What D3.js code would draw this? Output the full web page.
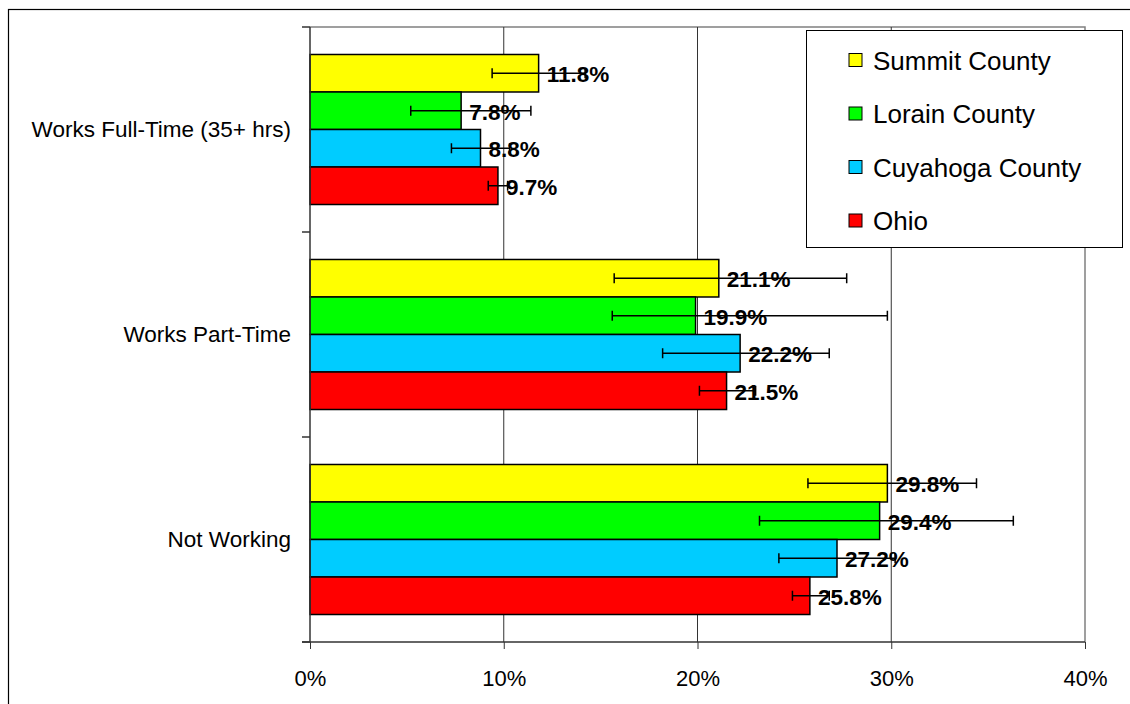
<!DOCTYPE html>
<html>
<head>
<meta charset="utf-8">
<script src="https://cdn.jsdelivr.net/npm/d3@7"></script>
<style>
  body { margin: 0; background: #fff; }
  svg text { font-family: "Liberation Sans", Arial, sans-serif; }
</style>
</head>
<body>
<div id="chart-container"></div>
<script>
// categories top to bottom, series in bar order within each group
const categories = ["Works Full-Time (35+ hrs)", "Works Part-Time", "Not Working"];
const series = ["Summit County", "Lorain County", "Cuyahoga County", "Ohio"];
const seriesColors = ["#ffff00", "#00ff00", "#00ccff", "#ff0000"];
const xTicks = [0, 10, 20, 30, 40];

// percent values, one array per series (same order as categories)
const summitValues = [11.8, 21.1, 29.8];
const lorainValues = [7.8, 19.9, 29.4];
const cuyahogaValues = [8.8, 22.2, 27.2];
const ohioValues = [9.7, 21.5, 25.8];

// error bar ends (low / high)
const summitLow = [9.4, 15.7, 25.7];
const summitHigh = [14.2, 27.7, 34.4];
const lorainLow = [5.2, 15.6, 23.2];
const lorainHigh = [11.4, 29.8, 36.3];
const cuyahogaLow = [7.3, 18.2, 24.2];
const cuyahogaHigh = [10.3, 26.8, 30.2];
const ohioLow = [9.2, 20.1, 24.9];
const ohioHigh = [10.2, 23.0, 26.8];

(() => {
  const values = [summitValues, lorainValues, cuyahogaValues, ohioValues];
  const lows = [summitLow, lorainLow, cuyahogaLow, ohioLow];
  const highs = [summitHigh, lorainHigh, cuyahogaHigh, ohioHigh];

  const rows = [];
  categories.forEach((c, ci) => {
    series.forEach((s, si) => {
      rows.push({cat: c, ser: s, color: seriesColors[si],
        value: values[si][ci], low: lows[si][ci], high: highs[si][ci]});
    });
  });

  const width = 1130;
  const height = 704;
  const marginTop = 27;
  const marginLeft = 310;
  const plotRight = 1085;
  const plotBottom = 642;

  const x = d3.scaleLinear()
    .domain([0, 40])
    .range([marginLeft, plotRight]);

  const y = d3.scaleBand()
    .domain(categories)
    .range([marginTop, plotBottom]);

  const ySub = d3.scaleBand()
    .domain(series)
    .range([0, y.bandwidth()])
    .paddingInner(0)
    .paddingOuter(0.733);

  const svg = d3.create("svg")
    .attr("width", width)
    .attr("height", height)
    .attr("viewBox", [0, 0, width, height]);

  // outer chart border (runs off the picture at right/bottom)
  svg.append("rect")
    .attr("x", 8.5).attr("y", 9.5)
    .attr("width", width).attr("height", height)
    .attr("fill", "#fff")
    .attr("stroke", "#000")
    .attr("stroke-width", 1.2);

  // plot frame top/right
  svg.append("path")
    .attr("d", `M${marginLeft},${marginTop}H${plotRight}V${plotBottom}`)
    .attr("fill", "none")
    .attr("stroke", "#808080")
    .attr("stroke-width", 1.5);

  // gridlines
  svg.append("g")
    .selectAll("line")
    .data(xTicks.slice(1, -1))
    .join("line")
    .attr("x1", d => x(d)).attr("x2", d => x(d))
    .attr("y1", marginTop).attr("y2", plotBottom)
    .attr("stroke", "#333")
    .attr("stroke-width", 1);

  // bars
  svg.append("g")
    .selectAll("rect")
    .data(rows)
    .join("rect")
    .attr("x", x(0))
    .attr("y", d => y(d.cat) + ySub(d.ser))
    .attr("width", d => x(d.value) - x(0))
    .attr("height", ySub.bandwidth())
    .attr("fill", d => d.color)
    .attr("stroke", "#000")
    .attr("stroke-width", 1.5);

  // value labels
  svg.append("g")
    .selectAll("text")
    .data(rows)
    .join("text")
    .attr("x", d => x(d.value) + 8)
    .attr("y", d => y(d.cat) + ySub(d.ser) + ySub.bandwidth() / 2 + 9)
    .attr("font-size", "22.5px")
    .attr("font-weight", "bold")
    .attr("fill", "#000")
    .text(d => d.value.toFixed(1) + "%");

  // error bars
  svg.append("g")
    .attr("stroke", "#000")
    .attr("stroke-width", 1.5)
    .attr("fill", "none")
    .selectAll("path")
    .data(rows)
    .join("path")
    .attr("d", d => {
      const cy = y(d.cat) + ySub(d.ser) + ySub.bandwidth() / 2;
      const x0 = x(d.low), x1 = x(d.high);
      return `M${x0},${cy - 5}V${cy + 5}M${x0},${cy}H${x1}M${x1},${cy - 5}V${cy + 5}`;
    });

  // x-axis
  const xAxis = svg.append("g")
    .attr("transform", `translate(0,${plotBottom})`)
    .call(d3.axisBottom(x).tickValues(xTicks).tickFormat(d => d + "%")
      .tickSize(7).tickPadding(21).tickSizeOuter(0));
  xAxis.select(".domain")
    .attr("d", `M${marginLeft - 8},0H${plotRight}`)
    .attr("stroke", "#333")
    .attr("stroke-width", 1.5);
  xAxis.selectAll(".tick line").attr("stroke", "#333");
  xAxis.selectAll("text")
    .attr("font-size", "22px")
    .attr("font-family", "Liberation Sans, Arial, sans-serif")
    .attr("fill", "#000");

  // y-axis (labels at band centres, ticks at band edges)
  const yAxis = svg.append("g")
    .attr("transform", `translate(${marginLeft},0)`)
    .call(d3.axisLeft(y).tickSize(0).tickPadding(19));
  yAxis.select(".domain")
    .attr("d", `M0,${marginTop}V${plotBottom}`)
    .attr("stroke", "#333")
    .attr("stroke-width", 1.5);
  yAxis.selectAll("text")
    .attr("font-size", "22.5px")
    .attr("font-family", "Liberation Sans, Arial, sans-serif")
    .attr("fill", "#000");

  const edges = categories.map(c => y(c)).concat([plotBottom]);
  svg.append("g")
    .selectAll("line")
    .data(edges)
    .join("line")
    .attr("x1", marginLeft - 8).attr("x2", marginLeft)
    .attr("y1", d => d).attr("y2", d => d)
    .attr("stroke", "#333")
    .attr("stroke-width", 1.5);

  // legend
  const legend = svg.append("g").attr("transform", "translate(806,30)");
  legend.append("rect")
    .attr("x", 0.5).attr("y", 0.5)
    .attr("width", 316).attr("height", 217)
    .attr("fill", "#fff")
    .attr("stroke", "#000")
    .attr("stroke-width", 1);

  const item = legend.selectAll("g.item")
    .data(series)
    .join("g")
    .attr("class", "item")
    .attr("transform", (d, i) => `translate(0,${30 + i * 53.5})`);
  item.append("rect")
    .attr("x", 43).attr("y", -6.5)
    .attr("width", 13).attr("height", 13)
    .attr("fill", (d, i) => seriesColors[i])
    .attr("stroke", "#000")
    .attr("stroke-width", 1);
  item.append("text")
    .attr("x", 67)
    .attr("y", 9.5)
    .attr("font-size", "26px")
    .attr("fill", "#000")
    .text(d => d);

  d3.select("#chart-container").append(() => svg.node());
})();
</script>
</body>
</html>
